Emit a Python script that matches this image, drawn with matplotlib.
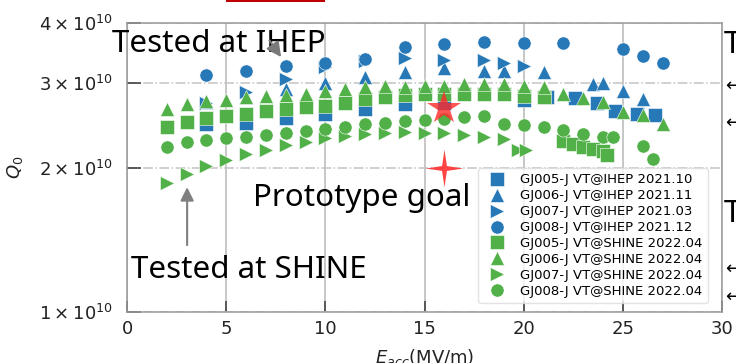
import matplotlib
matplotlib.use('Agg')
import matplotlib.pyplot as plt
from matplotlib.patches import Rectangle
from matplotlib.ticker import FixedLocator, FixedFormatter, NullLocator

# значения: Eacc (MV/m), Q0 (x1e10)
e_005_ihep = [4, 6, 8, 10, 12, 14, 16, 20, 21.2, 22.6, 23.7, 24.6, 25.7, 26.6]
q_005_ihep = [2.46, 2.48, 2.54, 2.58, 2.65, 2.71, 2.73, 2.76, 2.80, 2.79, 2.72, 2.62, 2.58, 2.57]

e_006_ihep = [4, 6, 8, 10, 12, 14, 16, 18, 19, 21, 23.5, 24, 25, 26]
q_006_ihep = [2.74, 2.81, 2.91, 3.00, 3.09, 3.16, 3.23, 3.17, 3.18, 3.16, 2.99, 3.00, 2.88, 2.78]

e_007_ihep = [4, 6, 8, 10, 12, 14, 16, 18, 19, 20]
q_007_ihep = [2.72, 2.87, 3.06, 3.24, 3.33, 3.39, 3.35, 3.35, 3.30, 3.25]

e_008_ihep = [4, 6, 8, 10, 12, 14, 16, 18, 20, 22, 25, 26, 27]
q_008_ihep = [3.11, 3.18, 3.25, 3.30, 3.37, 3.56, 3.62, 3.66, 3.64, 3.63, 3.53, 3.41, 3.30]

e_005_shine = [2, 3, 4, 5, 6, 7, 8, 9, 10, 11, 12, 13, 14, 15, 16, 17, 18, 19, 20, 21,
               22, 22.5, 23, 23.5, 24, 24.2]
q_005_shine = [2.43, 2.49, 2.54, 2.56, 2.59, 2.62, 2.65, 2.67, 2.69, 2.72, 2.78, 2.81, 2.83,
               2.84, 2.84, 2.85, 2.85, 2.84, 2.82, 2.80, 2.27, 2.24, 2.21, 2.19, 2.17, 2.12]

e_006_shine = [2, 3, 4, 5, 6, 7, 8, 9, 10, 11, 12, 13, 14, 15, 16, 17, 18, 19, 20, 21,
               22, 23, 24, 25, 26, 27]
q_006_shine = [2.65, 2.71, 2.75, 2.76, 2.81, 2.82, 2.83, 2.85, 2.88, 2.91, 2.94, 2.95, 2.94,
               2.95, 2.96, 2.985, 2.985, 2.985, 2.96, 2.94, 2.84, 2.79, 2.74, 2.61, 2.575, 2.46]

e_007_shine = [2, 3, 4, 5, 6, 7, 8, 9, 10, 11, 12, 13, 14, 15, 16, 17, 18, 19, 19.7, 20.1]
q_007_shine = [1.86, 1.94, 2.01, 2.07, 2.13, 2.18, 2.225, 2.265, 2.30, 2.33, 2.345, 2.365,
               2.375, 2.365, 2.355, 2.34, 2.31, 2.29, 2.18, 2.18]

e_008_shine = [2, 3, 4, 5, 6, 7, 8, 9, 10, 11, 12, 13, 14, 15, 16, 17, 18, 19, 20, 21,
               22, 23, 24, 24.5, 26, 26.5]
q_008_shine = [2.21, 2.255, 2.28, 2.30, 2.315, 2.34, 2.36, 2.38, 2.40, 2.43, 2.46, 2.48, 2.50,
               2.51, 2.52, 2.545, 2.555, 2.47, 2.45, 2.43, 2.39, 2.345, 2.32, 2.31, 2.22, 2.08]

series = [
    ('GJ005-J VT@IHEP 2021.10', e_005_ihep, q_005_ihep, 's', 'blue'),
    ('GJ006-J VT@IHEP 2021.11', e_006_ihep, q_006_ihep, '^', 'blue'),
    ('GJ007-J VT@IHEP 2021.03', e_007_ihep, q_007_ihep, '>', 'blue'),
    ('GJ008-J VT@IHEP 2021.12', e_008_ihep, q_008_ihep, 'o', 'blue'),
    ('GJ005-J VT@SHINE 2022.04', e_005_shine, q_005_shine, 's', 'green'),
    ('GJ006-J VT@SHINE 2022.04', e_006_shine, q_006_shine, '^', 'green'),
    ('GJ007-J VT@SHINE 2022.04', e_007_shine, q_007_shine, '>', 'green'),
    ('GJ008-J VT@SHINE 2022.04', e_008_shine, q_008_shine, 'o', 'green'),
]
colors = {'blue': '#2778b6', 'green': '#52b049'}

# звёзды: результат и цель прототипа
star_e, star_q = [16], [2.66]
goal_e, goal_q = [16], [2.0]

fig = plt.figure(figsize=(7.36, 3.63), dpi=100)
ax = fig.add_axes([0.1726, 0.1405, 0.8084, 0.7961])

for label, e, q, m, c in series:
    ax.plot(e, [v * 1e10 for v in q], linestyle='none', marker=m, ms=9.5,
            color=colors[c], mec='white', mew=0.4, label=label)

star4 = [(0, 1), (0.13, 0.13), (1, 0), (0.13, -0.13), (0, -1), (-0.13, -0.13),
         (-1, 0), (-0.13, 0.13), (0, 1)]
ax.plot(star_e, [v * 1e10 for v in star_q], linestyle='none', marker='*', ms=25,
        color='#ff2a2a', alpha=0.8, mew=0, zorder=5)
ax.plot(goal_e, [v * 1e10 for v in goal_q], linestyle='none', marker=star4, ms=27,
        color='#ff3030', alpha=0.9, mew=0, zorder=5)

ax.set_yscale('log')
ax.set_xlim(0, 30)
ax.set_ylim(1e10, 4e10)
ax.yaxis.set_major_locator(FixedLocator([1e10, 2e10, 3e10, 4e10]))
ax.yaxis.set_major_formatter(FixedFormatter([r'$1\times10^{10}$', r'$2\times10^{10}$',
                                             r'$3\times10^{10}$', r'$4\times10^{10}$']))
ax.yaxis.set_minor_locator(NullLocator())
ax.set_xticks([0, 5, 10, 15, 20, 25, 30])

ax.grid(axis='x', color='#bdbdbd', lw=1.2, ls='-')
ax.grid(axis='y', color='#c4c4c4', lw=1.1, ls='-.')
ax.set_axisbelow(True)
for s in ax.spines.values():
    s.set_color('#999999')
    s.set_linewidth(1.1)
ax.tick_params(axis='x', direction='in', length=8, width=1.2, color='#444444',
               labelsize=13, pad=6, labelcolor='#222222')
ax.tick_params(axis='y', direction='in', length=10, width=1.2, color='#444444',
               labelsize=13, pad=10, labelcolor='#222222')

ax.set_xlabel(r'$E_{acc}$(MV/m)', fontsize=13, color='#222222')
ax.xaxis.set_label_coords(0.5, -0.12)
ax.set_ylabel(r'$Q_0$', fontsize=13, color='#222222')
ax.yaxis.set_label_coords(-0.172, 0.5)

ax.legend(loc='lower left', bbox_to_anchor=(0.59, 0.031), borderaxespad=0,
          labelspacing=0.22, handlelength=2.0, framealpha=0.8,
          edgecolor='#dddddd', fancybox=True, prop={'size': 9.5})

# подписи и стрелки
txt = dict(family=['Noto Sans', 'DejaVu Sans'], fontsize=22.5, color='black',
           ha='left', va='baseline', zorder=6)
ax.text(-0.76, 3.48e10, 'Tested at IHEP', **txt)
ax.text(6.35, 1.66e10, 'Prototype goal', **txt)
ax.text(0.2, 1.178e10, 'Tested at SHINE', **txt)
ax.annotate('', xy=(7.85, 3.36e10), xytext=(7.1, 3.72e10), annotation_clip=False,
            arrowprops=dict(arrowstyle='-|>', color='#7a7a7a', lw=1.5, mutation_scale=22),
            zorder=7)
ax.annotate('', xy=(3.03, 1.844e10), xytext=(3.03, 1.36e10),
            arrowprops=dict(arrowstyle='-|>', color='#808080', lw=1.5, mutation_scale=20))

# остатки слайда по краям
fig.add_artist(Rectangle((226 / 736, 1 - 2 / 363), 99 / 736, 2 / 363,
                         transform=fig.transFigure, color='#c00000', lw=0))
for yy in [1 - 53 / 363, 1 - 222 / 363]:
    fig.text(724 / 736, yy, 'T', fontsize=22.5, family=['Noto Sans', 'DejaVu Sans'],
             va='baseline', ha='left')
for yy in [1 - 86 / 363, 1 - 123 / 363, 1 - 269 / 363, 1 - 297 / 363]:
    fig.text(725 / 736, yy, '\u2190', fontsize=13, va='center', ha='left')

plt.savefig('out.png', dpi=100)
